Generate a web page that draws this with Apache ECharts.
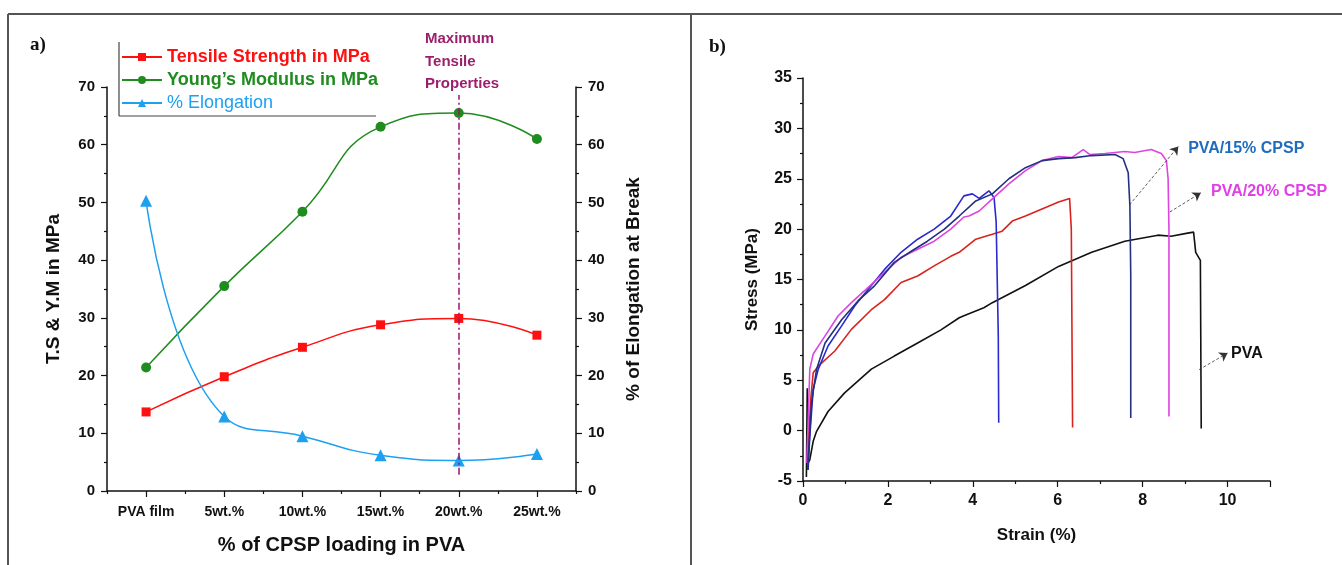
<!DOCTYPE html>
<html>
<head>
<meta charset="utf-8">
<title>PVA / CPSP tensile properties</title>
<script src="https://cdn.jsdelivr.net/npm/echarts@6/dist/echarts.min.js"></script>
<style>
  html, body { margin: 0; padding: 0; background: #fff; }
  #chart { width: 1342px; height: 565px; }
</style>
</head>
<body>
<div id="chart"></div>
<script>
// panel a) values per CPSP loading
var loadings = ['PVA film', '5wt.%', '10wt.%', '15wt.%', '20wt.%', '25wt.%'];
var tensileStrength = [13.7, 19.8, 24.9, 28.8, 29.9, 27.0];
var youngsModulus = [21.4, 35.5, 48.4, 63.1, 65.5, 61.0];
var elongation = [50.3, 12.9, 9.5, 6.2, 5.3, 6.4];

// panel b) stress-strain curves, [strain %, stress MPa]
var pvaCurve = [[0.08, -4.6], [0.1, 4.2], [0.12, -3.2], [0.16, -2.9], [0.24, -1.06], [0.32, -0.07], [0.59, 1.9],
  [0.98, 3.75], [1.61, 6.1], [2.15, 7.4], [2.7, 8.7], [3.25, 10.0], [3.68, 11.2], [3.79, 11.4], [4.26, 12.2],
  [4.46, 12.7], [5.24, 14.4], [6.02, 16.3], [6.8, 17.7], [7.58, 18.8], [8.36, 19.4], [8.67, 19.3], [9.06, 19.6],
  [9.2, 19.7], [9.25, 17.7], [9.36, 16.9], [9.38, 0.2]];
var redCurve = [[0.12, -2.0], [0.18, 3.0], [0.24, 5.74], [0.36, 6.4], [0.75, 7.9], [1.14, 10.05], [1.61, 12.0],
  [1.92, 13.0], [2.31, 14.7], [2.7, 15.35], [3.09, 16.35], [3.48, 17.3], [3.68, 17.7], [4.07, 19.0], [4.46, 19.5],
  [4.69, 19.8], [4.93, 20.8], [5.24, 21.3], [5.63, 22.0], [6.02, 22.7], [6.28, 23.05], [6.32, 20.0], [6.35, 0.3]];
var blueCurve = [[0.12, -3.9], [0.16, -0.56], [0.24, 4.1], [0.36, 6.1], [0.59, 8.4], [0.91, 10.4], [1.22, 12.4],
  [1.61, 14.4], [1.92, 16.0], [2.31, 17.7], [2.7, 19.0], [3.09, 20.0], [3.48, 21.3], [3.79, 23.3], [3.99, 23.5],
  [4.15, 23.05], [4.38, 23.8], [4.5, 23.15], [4.55, 20.7], [4.6, 9.4], [4.61, 0.77]];
var cpsp15Curve = [[0.11, -3.9], [0.2, 2.75], [0.32, 6.1], [0.52, 8.7], [0.91, 11.0], [1.3, 12.9], [1.69, 14.4],
  [2.15, 16.7], [2.55, 17.8], [2.93, 18.8], [3.33, 20.0], [3.68, 21.3], [4.07, 22.8], [4.46, 23.5], [4.85, 25.0],
  [5.24, 26.1], [5.63, 26.8], [6.02, 27.0], [6.41, 27.1], [6.8, 27.3], [7.35, 27.4], [7.54, 27.0], [7.66, 25.6],
  [7.7, 22.3], [7.72, 15.4], [7.72, 1.26]];
var cpsp20Curve = [[0.09, -3.2], [0.16, 6.1], [0.24, 7.6], [0.52, 9.4], [0.83, 11.4], [1.14, 12.7], [1.53, 14.2],
  [1.92, 15.7], [2.31, 17.2], [2.7, 18.0], [3.09, 18.8], [3.48, 20.0], [3.79, 21.2], [3.91, 21.3], [4.15, 21.8],
  [4.46, 23.0], [4.85, 24.5], [5.24, 25.8], [5.63, 26.8], [6.02, 27.2], [6.33, 27.1], [6.6, 27.9], [6.76, 27.4],
  [7.11, 27.5], [7.58, 27.7], [7.81, 27.6], [8.2, 27.9], [8.44, 27.5], [8.56, 26.8], [8.6, 25.0], [8.62, 20.0],
  [8.62, 1.4]];

var boldFont = "'Liberation Sans', Arial, sans-serif";
var narrowFont = "'Liberation Sans Narrow', 'Arial Narrow', 'Liberation Sans', sans-serif";

function axisBase(extra) {
  var base = {
    axisLine: { show: true, onZero: false, lineStyle: { color: '#111', width: 1.5 } },
    axisTick: { show: true, inside: false, length: 6, lineStyle: { color: '#111', width: 1.2 } },
    minorTick: { show: true, splitNumber: 2, length: 3, lineStyle: { color: '#111', width: 1.2 } },
    splitLine: { show: false },
    axisLabel: { color: '#111', fontWeight: 'bold', fontSize: 14, fontFamily: boldFont },
    nameTextStyle: { color: '#111', fontWeight: 'bold', fontSize: 19, fontFamily: boldFont }
  };
  return Object.assign(base, extra);
}

var chart = echarts.init(document.getElementById('chart'));
chart.setOption({
  backgroundColor: '#fff',
  animation: false,
  grid: [
    { left: 107, right: 766, top: 87, bottom: 74 },
    { left: 803, right: 72, top: 78, bottom: 84 }
  ],
  legend: {
    orient: 'vertical', left: 116, top: 43, itemWidth: 40, itemHeight: 10, itemGap: 5,
    textStyle: { fontSize: 18, fontWeight: 'bold', fontFamily: narrowFont },
    data: [
      { name: 'Tensile Strength in MPa', textStyle: { color: '#ff1010' } },
      { name: 'Young\u2019s Modulus in MPa', textStyle: { color: '#1e8c1e' } },
      { name: '% Elongation', textStyle: { color: '#1ea0f0', fontWeight: 'normal' } }
    ]
  },
  xAxis: [
    axisBase({
      type: 'category', gridIndex: 0, data: loadings, boundaryGap: true,
      axisTick: { show: true, alignWithLabel: true, length: 6, lineStyle: { color: '#111', width: 1.2 } },
      minorTick: { show: false },
      axisLabel: { color: '#111', fontWeight: 'bold', fontSize: 14, fontFamily: boldFont, margin: 14, interval: 0 },
      name: '% of CPSP loading in PVA', nameLocation: 'middle', nameGap: 44,
      nameTextStyle: { color: '#111', fontWeight: 'bold', fontSize: 20, fontFamily: boldFont }
    }),
    {
      type: 'category', gridIndex: 0, data: loadings, boundaryGap: true, position: 'bottom',
      axisLine: { show: false },
      axisTick: { show: true, alignWithLabel: false, length: 3, lineStyle: { color: '#111', width: 1.2 } },
      axisLabel: { show: false }
    },
    axisBase({
      type: 'value', gridIndex: 1, min: 0, max: 11, interval: 2,
      axisLabel: {
        color: '#111', fontWeight: 'bold', fontSize: 16, fontFamily: boldFont, margin: 12,
        formatter: function (v) { return v > 10 ? '' : v; }
      },
      name: 'Strain (%)', nameLocation: 'middle', nameGap: 46,
      nameTextStyle: { color: '#111', fontWeight: 'bold', fontSize: 17, fontFamily: boldFont }
    })
  ],
  yAxis: [
    axisBase({
      type: 'value', gridIndex: 0, position: 'left', min: 0, max: 70, interval: 10,
      axisLabel: { color: '#111', fontWeight: 'bold', fontSize: 15, fontFamily: boldFont, margin: 12 },
      name: 'T.S & Y.M in MPa', nameLocation: 'middle', nameGap: 44, nameRotate: 90
    }),
    axisBase({
      type: 'value', gridIndex: 0, position: 'right', min: 0, max: 70, interval: 10,
      axisLabel: { color: '#111', fontWeight: 'bold', fontSize: 15, fontFamily: boldFont, margin: 12 },
      name: '% of Elongation at Break', nameLocation: 'middle', nameGap: 48, nameRotate: 90
    }),
    axisBase({
      type: 'value', gridIndex: 1, min: -5, max: 35, interval: 5,
      axisLabel: { color: '#111', fontWeight: 'bold', fontSize: 16, fontFamily: boldFont, margin: 11 },
      name: 'Stress (MPa)', nameLocation: 'middle', nameGap: 42, nameRotate: 90,
      nameTextStyle: { color: '#111', fontWeight: 'bold', fontSize: 17, fontFamily: boldFont }
    })
  ],
  series: [
    {
      name: 'Tensile Strength in MPa', type: 'line', xAxisIndex: 0, yAxisIndex: 0,
      data: tensileStrength, smooth: true, symbol: 'rect', symbolSize: 9,
      itemStyle: { color: '#ff1010' }, lineStyle: { color: '#ff1010', width: 1.5 },
      markLine: {
        silent: true, symbol: ['none', 'none'], label: { show: false },
        lineStyle: { color: '#a0106e', width: 1.5, type: [7, 3, 2, 3] },
        data: [[{ coord: ['20wt.%', 2.8] }, { coord: ['20wt.%', 68.6] }]]
      }
    },
    {
      name: 'Young\u2019s Modulus in MPa', type: 'line', xAxisIndex: 0, yAxisIndex: 0,
      data: youngsModulus, smooth: true, symbol: 'circle', symbolSize: 10,
      itemStyle: { color: '#1e8c1e' }, lineStyle: { color: '#1e8c1e', width: 1.5 }
    },
    {
      name: '% Elongation', type: 'line', xAxisIndex: 0, yAxisIndex: 1,
      data: elongation, smooth: true, symbol: 'triangle', symbolSize: 12,
      itemStyle: { color: '#1ea0f0' }, lineStyle: { color: '#1ea0f0', width: 1.5 }
    },
    {
      name: 'PVA', type: 'line', xAxisIndex: 2, yAxisIndex: 2, data: pvaCurve,
      showSymbol: false, lineStyle: { color: '#111', width: 1.6 }, itemStyle: { color: '#111' },
      markLine: {
        silent: true, symbol: ['none', 'arrow'], symbolSize: 8, label: { show: false },
        lineStyle: { color: '#333', width: 0.8, type: [3, 2] },
        data: [
          [{ coord: [7.69, 22.4] }, { coord: [8.84, 28.2] }],
          [{ coord: [8.64, 21.7] }, { coord: [9.37, 23.6] }],
          [{ coord: [9.33, 6.05] }, { coord: [10.0, 7.7] }]
        ]
      },
      markPoint: {
        silent: true, symbol: 'circle', symbolSize: 1, itemStyle: { color: 'rgba(0,0,0,0)' },
        label: { show: true, position: 'right', distance: 0, fontSize: 16, fontWeight: 'bold', fontFamily: boldFont },
        data: [
          { coord: [9.06, 28.0], value: 'PVA/15% CPSP', label: { color: '#1f6cbf', formatter: 'PVA/15% CPSP' } },
          { coord: [9.6, 23.7], value: 'PVA/20% CPSP', label: { color: '#e040e8', formatter: 'PVA/20% CPSP' } },
          { coord: [10.07, 7.66], value: 'PVA', label: { color: '#111', formatter: 'PVA' } }
        ]
      }
    },
    {
      name: 'PVA/5% CPSP', type: 'line', xAxisIndex: 2, yAxisIndex: 2, data: redCurve,
      showSymbol: false, lineStyle: { color: '#d8231e', width: 1.6 }, itemStyle: { color: '#d8231e' }
    },
    {
      name: 'PVA/10% CPSP', type: 'line', xAxisIndex: 2, yAxisIndex: 2, data: blueCurve,
      showSymbol: false, lineStyle: { color: '#2a2ad0', width: 1.6 }, itemStyle: { color: '#2a2ad0' }
    },
    {
      name: 'PVA/20% CPSP', type: 'line', xAxisIndex: 2, yAxisIndex: 2, data: cpsp20Curve,
      showSymbol: false, lineStyle: { color: '#dd44e0', width: 1.6 }, itemStyle: { color: '#dd44e0' }
    },
    {
      name: 'PVA/15% CPSP', type: 'line', xAxisIndex: 2, yAxisIndex: 2, data: cpsp15Curve,
      showSymbol: false, lineStyle: { color: '#23307f', width: 1.6 }, itemStyle: { color: '#23307f' }
    }
  ],
  graphic: [
    // panel frames
    { type: 'line', shape: { x1: 8, y1: 14, x2: 1342, y2: 14 }, style: { stroke: '#555', lineWidth: 2 } },
    { type: 'line', shape: { x1: 8, y1: 14, x2: 8, y2: 565 }, style: { stroke: '#555', lineWidth: 2 } },
    { type: 'line', shape: { x1: 691, y1: 14, x2: 691, y2: 565 }, style: { stroke: '#555', lineWidth: 2 } },
    // legend box (left and bottom edges only)
    { type: 'line', shape: { x1: 119, y1: 42, x2: 119, y2: 116 }, style: { stroke: '#444', lineWidth: 1.2 } },
    { type: 'line', shape: { x1: 119, y1: 116, x2: 376, y2: 116 }, style: { stroke: '#444', lineWidth: 1.2 } },
    { type: 'text', left: 30, top: 36, style: { text: 'a)', fill: '#111', font: 'bold 19px "Liberation Serif", serif' } },
    { type: 'text', left: 709, top: 38, style: { text: 'b)', fill: '#111', font: 'bold 19px "Liberation Serif", serif' } },
    {
      type: 'text', left: 425, top: 28,
      style: {
        text: 'Maximum\nTensile\nProperties', fill: '#9c1f6e', lineHeight: 22.5,
        font: 'bold 15px "Liberation Sans Narrow", "Arial Narrow", "Liberation Sans", sans-serif'
      }
    }
  ]
});
</script>
</body>
</html>
